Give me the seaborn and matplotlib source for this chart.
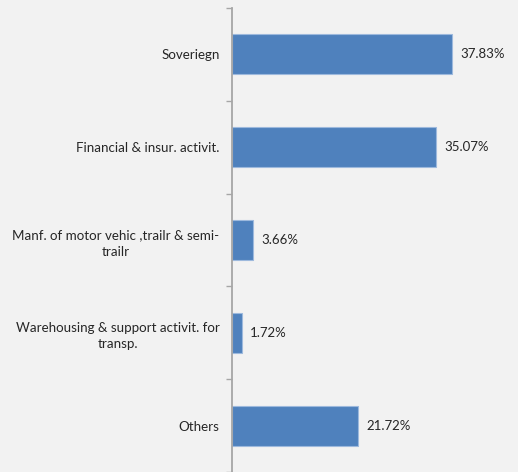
import matplotlib
matplotlib.use("Agg")
import matplotlib.pyplot as plt
import seaborn as sns
import pandas as pd
import numpy as np

categories = [
    "Soveriegn",
    "Financial & insur. activit.",
    "Manf. of motor vehic ,trailr & semi-\ntrailr",
    "Warehousing & support activit. for\ntransp.",
    "Others",
]
shares = [37.83, 35.07, 3.66, 1.72, 21.72]
value_labels = ["37.83%", "35.07%", "3.66%", "1.72%", "21.72%"]

df = pd.DataFrame({"sector": categories, "share": shares})

sns.set_theme(style="white")
plt.rcParams["font.family"] = ["Lato", "DejaVu Sans"]

bg = "#F2F2F2"
fig = plt.figure(figsize=(5.18, 4.72), dpi=100, facecolor=bg)
ax = fig.add_axes([232 / 518, 0.0, (518 - 232) / 518, (472 - 8) / 472])
ax.set_facecolor(bg)

sns.barplot(data=df, x="share", y="sector", orient="h", color="#4F81BD",
            saturation=1, width=0.43, edgecolor="#9DB9DD", linewidth=0.8, ax=ax)

ax.set_xlim(0, (518 - 232) / 5.815)
ax.set_ylim(len(categories) - 0.5, -0.5)

for i, (v, lab) in enumerate(zip(shares, value_labels)):
    ax.text(v + 1.4, i, lab, va="center", ha="left", fontsize=9.5, color="#262626")

ax.set_xlabel("")
ax.set_ylabel("")
ax.set_xticks([])
for s in ["top", "right", "bottom"]:
    ax.spines[s].set_visible(False)
ax.spines["left"].set_color("#A6A6A6")
ax.spines["left"].set_linewidth(1.3)

ax.set_yticks(np.arange(len(categories)))
ax.set_yticklabels(categories, fontsize=9.6, color="#262626",
                   multialignment="center", linespacing=1.45)
ax.tick_params(axis="y", which="major", length=0, pad=9)
ax.set_yticks(np.arange(len(categories) + 1) - 0.5, minor=True)
ax.tick_params(axis="y", which="minor", length=4, width=1, color="#A6A6A6", direction="out", left=True)

fig.savefig("out.png", dpi=100, facecolor=bg)
